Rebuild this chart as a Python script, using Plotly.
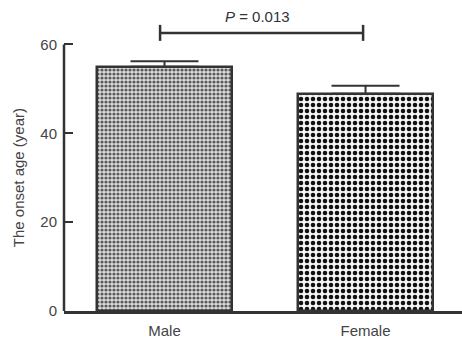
import plotly.graph_objects as go

categories = ["Male", "Female"]
means = [55.0, 48.9]
err_plus = [1.2, 1.8]
y_ticks = [0, 20, 40, 60]
y_title = "The onset age (year)"
p_label = "<i>P</i> = 0.013"
bracket_x = [-0.022, 0.988]
bracket_y = 62.6
bracket_tick = [60.8, 64.4]
p_y = 66.2

FONT = "Liberation Sans, Arial, sans-serif"
INK = "#333333"

fig = go.Figure()
patterns = [
    dict(shape=".", size=4, solidity=0.5, fgcolor="#5a5a5a", bgcolor="#dcdcdc", fillmode="replace"),
    dict(shape=".", size=6, solidity=0.45, fgcolor="#111111", bgcolor="#f4f4f4", fillmode="replace"),
]
for i, c in enumerate(categories):
    fig.add_trace(go.Bar(
        x=[i], y=[means[i]], width=0.672,
        marker=dict(color="#ffffff", pattern=patterns[i], line=dict(color=INK, width=2.5)),
        error_y=dict(type="data", symmetric=False, array=[err_plus[i]], arrayminus=[0],
                     color=INK, thickness=2, width=34),
        showlegend=False, hoverinfo="skip",
    ))

# y-axis line from 0 to 60
fig.add_shape(type="line", xref="paper", yref="y", x0=0, x1=0, y0=y_ticks[0], y1=y_ticks[-1],
              line=dict(color=INK, width=2.5))
# significance bracket
fig.add_shape(type="line", xref="x", yref="y", x0=bracket_x[0], x1=bracket_x[1], y0=bracket_y, y1=bracket_y,
              line=dict(color=INK, width=2.5))
for bx in bracket_x:
    fig.add_shape(type="line", xref="x", yref="y", x0=bx, x1=bx, y0=bracket_tick[0], y1=bracket_tick[1],
                  line=dict(color=INK, width=2.5))

fig.add_annotation(x=sum(bracket_x) / 2 - 0.02, y=p_y, xref="x", yref="y", text=p_label,
                   showarrow=False, font=dict(family=FONT, size=15, color="#333333"))
fig.add_annotation(x=0, y=30, xref="paper", yref="y", xshift=-56, text=y_title, textangle=-90,
                   showarrow=False, font=dict(family=FONT, size=15, color="#444444"))

fig.update_layout(
    width=462, height=340,
    margin=dict(l=64, r=0, t=0, b=29),
    paper_bgcolor="white", plot_bgcolor="white",
    bargap=0,
    font=dict(family=FONT, size=15, color="#444444"),
    xaxis=dict(range=[-0.5, 1.48], tickvals=[0, 1], ticktext=categories, showgrid=False, zeroline=False,
               showline=True, linecolor=INK, linewidth=2.5, ticks="", ticklabelstandoff=4),
    yaxis=dict(range=[0, 70], tickvals=y_ticks, showgrid=False, zeroline=False, showline=False,
               ticks="inside", ticklen=9, tickwidth=2, tickcolor=INK, ticklabelstandoff=6),
)

fig.write_html("out.html")
